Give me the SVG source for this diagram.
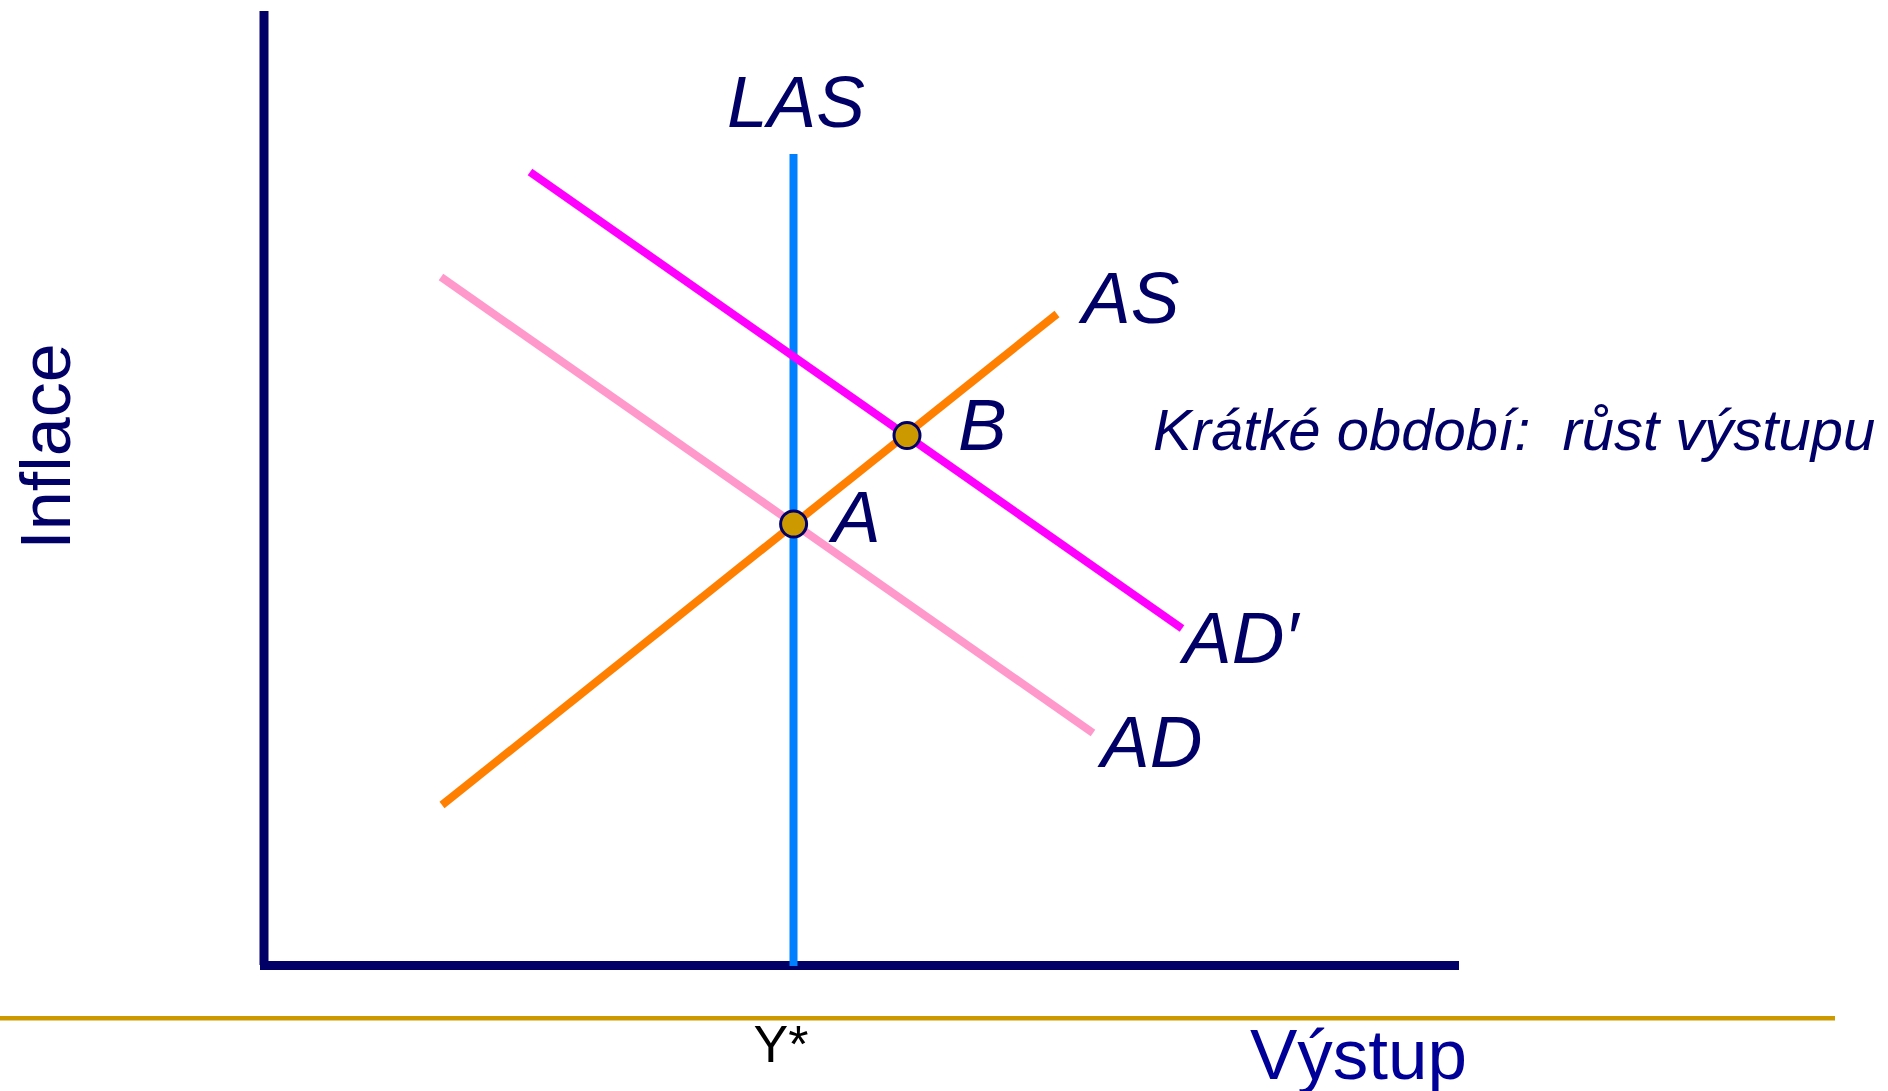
<svg xmlns="http://www.w3.org/2000/svg" width="1888" height="1091" viewBox="0 0 1888 1091">
<style>
.lbl{font-family:"Liberation Sans",Arial,sans-serif;font-style:italic;font-size:73px;fill:#000066}
.curve{stroke-width:8;fill:none;stroke-linecap:butt}
.pt{fill:#CC9900;stroke:#000066;stroke-width:3}
</style>
<rect width="1888" height="1091" fill="#ffffff"/>
<g id="axes">
<line x1="264" y1="11" x2="264" y2="965" stroke="#000066" stroke-width="9"/>
<line x1="260" y1="965.5" x2="1459" y2="965.5" stroke="#000066" stroke-width="9"/>
<line x1="0" y1="1018.3" x2="1835" y2="1018.3" stroke="#CC9900" stroke-width="4.6"/>
</g>
<g id="connectors">
<line id="LAS-line" class="curve" x1="793.5" y1="154" x2="793.5" y2="966" stroke="#0080FF" stroke-width="9"/>
<line id="AD-line" class="curve" x1="441" y1="277" x2="1093" y2="733" stroke="#FF99CC"/>
<line id="ADp-line" class="curve" x1="530" y1="172" x2="1182" y2="628.5" stroke="#FF00FF"/>
<line id="AS-line" class="curve" x1="442" y1="805" x2="1057" y2="314" stroke="#FF8000"/>
</g>
<g id="pointA"><circle class="pt" cx="793.6" cy="524" r="13"/><text class="lbl" x="832" y="542">A</text></g>
<g id="pointB"><circle class="pt" cx="907" cy="435.5" r="13"/><text class="lbl" x="958" y="450">B</text></g>
<g id="label-LAS"><text class="lbl" x="727" y="127">LAS</text></g>
<g id="label-AS"><text class="lbl" x="1082" y="323">AS</text></g>
<g id="label-ADp"><text class="lbl" x="1183" y="663">AD′</text></g>
<g id="label-AD"><text class="lbl" x="1101" y="767">AD</text></g>
<g id="note"><text class="lbl" x="1153" y="450" xml:space="preserve" style="font-size:58px;white-space:pre">Krátké období:  růst výstupu</text></g>
<g id="label-Inflace"><text x="0" y="0" transform="translate(70,446.5) rotate(-90)" text-anchor="middle" font-family="Liberation Sans, Arial, sans-serif" font-size="70" fill="#000066">Inflace</text></g>
<g id="label-Ystar"><text x="781" y="1062" text-anchor="middle" font-family="Liberation Sans, Arial, sans-serif" font-size="52" fill="#000000">Y*</text></g>
<g id="label-Vystup"><text x="1250" y="1079" font-family="Liberation Sans, Arial, sans-serif" font-size="71" fill="#000099">Výstup</text></g>
</svg>
